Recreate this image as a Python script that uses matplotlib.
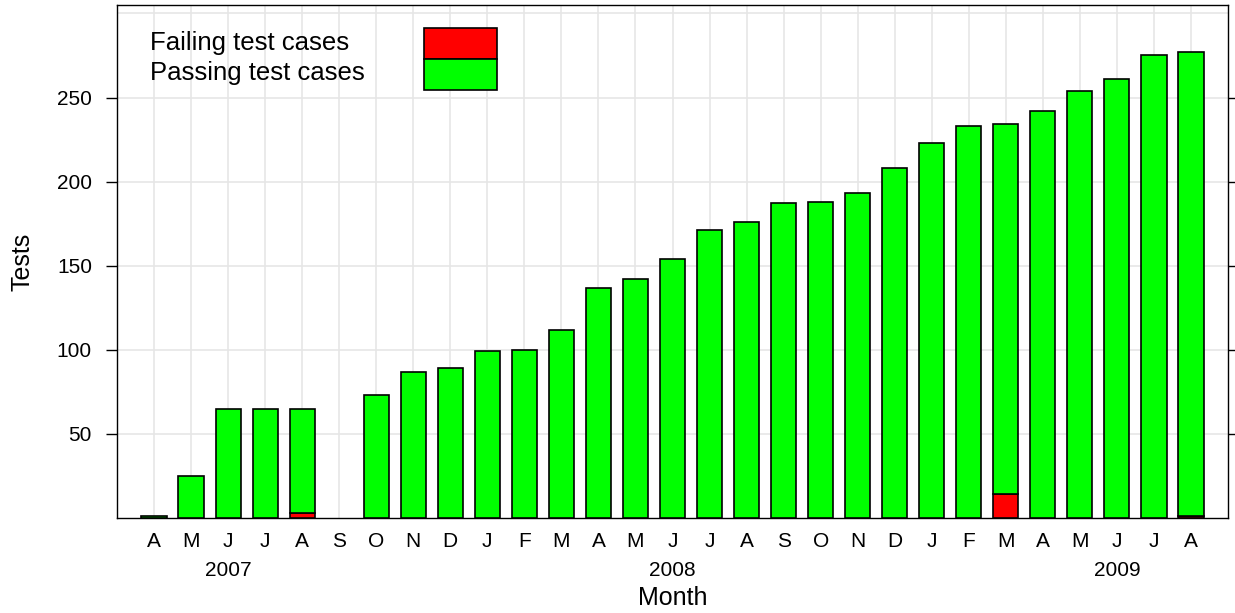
import matplotlib
matplotlib.use("Agg")
import matplotlib.pyplot as plt
from matplotlib.patches import Rectangle
import matplotlib.transforms as mtransforms

plt.rcParams['font.family'] = ['Liberation Sans', 'DejaVu Sans']

months = ["A", "M", "J", "J", "A", "S", "O", "N", "D",
          "J", "F", "M", "A", "M", "J", "J", "A", "S", "O", "N", "D",
          "J", "F", "M", "A", "M", "J", "J", "A"]
failing = [0, 0, 0, 0, 3, 0, 0, 0, 0,
           0, 0, 0, 0, 0, 0, 0, 0, 0, 0, 0, 0,
           0, 0, 14, 0, 0, 0, 0, 1]
passing = [1, 25, 65, 65, 62, 0, 73, 87, 89,
           99, 100, 112, 137, 142, 154, 171, 176, 187, 188, 193, 208,
           223, 233, 220, 242, 254, 261, 275, 276]
years = ["2007", "2008", "2009"]
year_month_index = [2, 14, 26]  # index of June in each year

fig = plt.figure(figsize=(12.35, 6.13), dpi=100)
ax = fig.add_axes([117/1235, 1-518/613, (1228-117)/1235, (518-5)/613])

x = list(range(1, len(months) + 1))
fx = [xi for xi, f in zip(x, failing) if f > 0]
fv = [f for f in failing if f > 0]
px = [xi for xi, p in zip(x, passing) if p > 0]
pv = [p for p in passing if p > 0]
pb = [f for f, p in zip(failing, passing) if p > 0]
ax.bar(fx, fv, width=0.68, color="#ff0000", edgecolor="black", linewidth=1.2, zorder=3)
ax.bar(px, pv, width=0.68, bottom=pb, color="#00ff00", edgecolor="black", linewidth=1.2, zorder=3)

ax.set_xlim(0, 30)
ax.set_ylim(0, 305)
ax.set_xticks(x)
ax.set_xticklabels(months, fontsize=15)
ax.set_yticks([50, 100, 150, 200, 250])
ax.tick_params(axis='x', length=0, pad=10)
ax.tick_params(axis='y', length=8, width=1, labelsize=15, pad=10, right=True, direction='out')

# grid
for xi in x:
    ax.axvline(xi, color="#e6e6e6", lw=1.2, zorder=0)
for yv in [50, 100, 150, 200, 250, 300]:
    ax.axhline(yv, color="#e6e6e6", lw=1.2, zorder=0)

for s in ax.spines.values():
    s.set_linewidth(1)
    s.set_color("black")

# year labels
trans = mtransforms.blended_transform_factory(ax.transData, ax.transAxes)
for yr, idx in zip(years, year_month_index):
    ax.text(x[idx], -52/513, yr, transform=trans, ha='center', va='center', fontsize=15)

ax.text(0.5, -80/513, "Month", transform=ax.transAxes, ha='center', va='center', fontsize=18)
fig.text(22/1235, 1-262/613, "Tests", rotation=90, ha='center', va='center', fontsize=18)

# legend
axw, axh = 1228-117, 518-5
def ax_coords(px_, py_):
    return ((px_-117)/axw, (518-py_)/axh)
lx, ly = ax_coords(150, 43)
ax.text(lx, ly, "Failing test cases", transform=ax.transAxes, ha='left', va='center', fontsize=18.5)
lx, ly = ax_coords(150, 73)
ax.text(lx, ly, "Passing test cases", transform=ax.transAxes, ha='left', va='center', fontsize=18.5)
rx0, ry_top = ax_coords(424, 28)
rx1, ry_mid = ax_coords(497, 59)
_, ry_bot = ax_coords(497, 90)
ax.add_patch(Rectangle((rx0, ry_mid), rx1-rx0, ry_top-ry_mid, transform=ax.transAxes,
                       facecolor="#ff0000", edgecolor="black", lw=1.2, zorder=4))
ax.add_patch(Rectangle((rx0, ry_bot), rx1-rx0, ry_mid-ry_bot, transform=ax.transAxes,
                       facecolor="#00ff00", edgecolor="black", lw=1.2, zorder=4))

fig.savefig("out.png", dpi=100)
